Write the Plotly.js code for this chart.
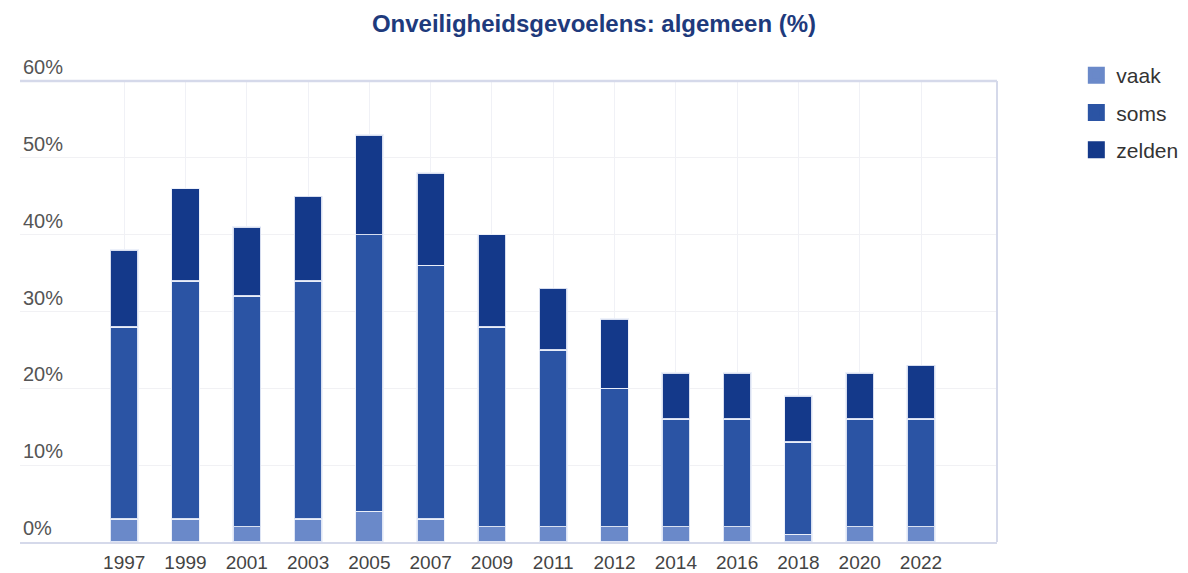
<!DOCTYPE html>
<html>
<head>
<meta charset="utf-8">
<script src="https://cdn.plot.ly/plotly-3.0.1.min.js"></script>
<style>
html,body{margin:0;padding:0;background:#fff;}
#chart{width:1188px;height:573px;}
</style>
</head>
<body>
<div id="chart"></div>
<script>
const years = ["1997","1999","2001","2003","2005","2007","2009","2011","2012","2014","2016","2018","2020","2022"];
const vaak   = [3, 3, 2, 3, 4, 3, 2, 2, 2, 2, 2, 1, 2, 2];
const soms   = [25, 31, 30, 31, 36, 33, 26, 23, 18, 14, 14, 12, 14, 14];
const zelden = [10, 12, 9, 11, 13, 12, 12, 8, 9, 6, 6, 6, 6, 7];
const seriesNames = ["vaak", "soms", "zelden"];
const colors = ["#6a89c9", "#2b54a4", "#14398a"];

const seriesData = [vaak, soms, zelden];
const traces = seriesData.map((vals, i) => ({
  type: "bar",
  name: seriesNames[i],
  x: years,
  y: vals,
  width: 0.45,
  legendgroup: seriesNames[i],
  showlegend: false,
  marker: {color: colors[i], line: {color: "rgba(235,240,250,0.9)", width: 1.5}},
  hoverinfo: "x+y+name"
}));
// legend-only entries (larger swatches)
seriesNames.forEach((n, i) => {
  traces.push({
    type: "bar",
    name: n,
    x: [years[0]],
    y: [null],
    legendgroup: n,
    showlegend: true,
    hoverinfo: "skip",
    marker: {color: colors[i], line: {color: colors[i], width: 10}}
  });
});

const layout = {
  width: 1188,
  height: 573,
  barmode: "stack",
  paper_bgcolor: "#ffffff",
  plot_bgcolor: "#ffffff",
  margin: {l: 20, r: 191, t: 81, b: 31},
  font: {family: "Liberation Sans, Arial, sans-serif", color: "#444"},
  title: {
    text: "<b>Onveiligheidsgevoelens: algemeen (%)</b>",
    font: {size: 24, color: "#1e3a7c", family: "Liberation Sans, Arial, sans-serif"},
    x: 0.5, xref: "container", y: 0.958, yref: "container", yanchor: "middle"
  },
  xaxis: {
    type: "category",
    range: [-1.7, 14.24],
    showgrid: true,
    gridcolor: "#f0f1f6",
    gridwidth: 1,
    showline: true,
    linecolor: "#d5d9ea",
    linewidth: 2,
    ticks: "outside",
    ticklen: 2,
    tickcolor: "rgba(0,0,0,0)",
    tickfont: {size: 19, color: "#444"},
    automargin: false,
    zeroline: false,
    fixedrange: true
  },
  yaxis: {
    range: [0, 60],
    dtick: 10,
    ticksuffix: "%",
    ticklabelposition: "inside top",
    ticklabeloverflow: "allow",
    showgrid: true,
    gridcolor: "#f1f1f4",
    gridwidth: 1,
    zeroline: false,
    showline: false,
    tickfont: {size: 20, color: "#555"},
    fixedrange: true
  },
  legend: {
    xref: "container",
    yref: "container",
    x: 0.906,
    y: 0.904,
    xanchor: "left",
    yanchor: "top",
    traceorder: "grouped",
    tracegroupgap: 7,
    font: {size: 21, color: "#333"},
    bgcolor: "rgba(0,0,0,0)"
  },
  shapes: [
    {type: "line", xref: "paper", yref: "paper", x0: 0, x1: 1, y0: 1, y1: 1, line: {color: "#d5d9ea", width: 2.5}},
    {type: "line", xref: "paper", yref: "paper", x0: 1, x1: 1, y0: 0, y1: 1, line: {color: "#d5d9ea", width: 2}}
  ]
};

Plotly.newPlot("chart", traces, layout, {displayModeBar: false, responsive: false});
</script>
</body>
</html>
